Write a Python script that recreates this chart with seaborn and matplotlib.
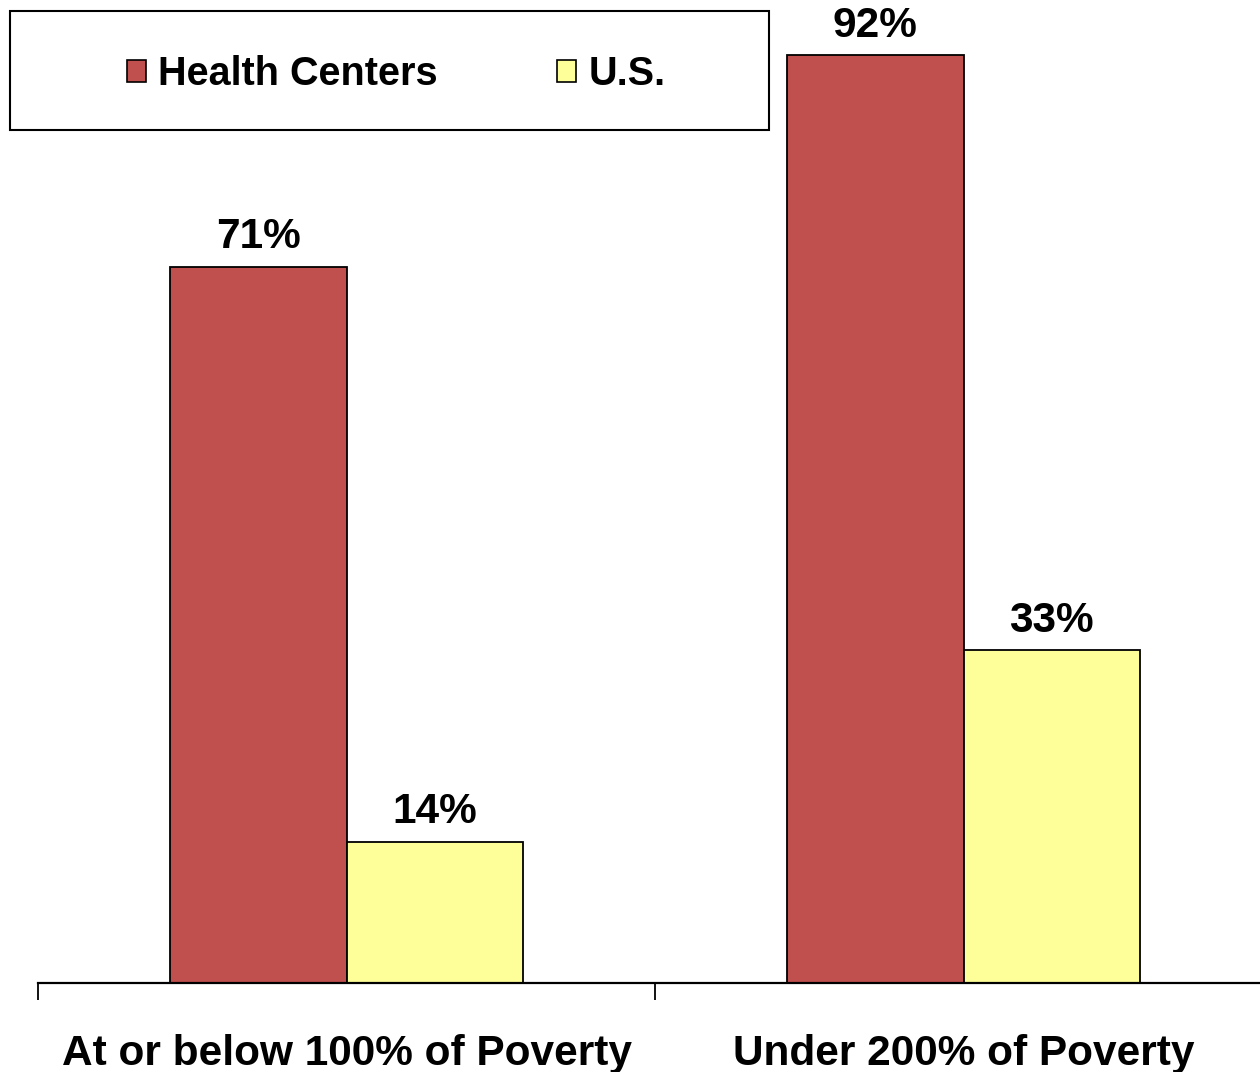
import matplotlib
matplotlib.use("Agg")
import matplotlib.pyplot as plt
import seaborn as sns
import pandas as pd
from matplotlib.patches import Rectangle

categories = ["At or below 100% of Poverty", "Under 200% of Poverty"]
series = ["Health Centers", "U.S."]
health_centers = [71, 92]
us_values = [14, 33]
colors = ["#C0504D", "#FFFF99"]

df = pd.DataFrame({
    "category": categories * 2,
    "series": [series[0]] * 2 + [series[1]] * 2,
    "value": health_centers + us_values,
})

sns.set_theme(style="white")
plt.rcParams["font.family"] = ["Liberation Sans", "DejaVu Sans"]
plt.rcParams["text.color"] = "black"
plt.rcParams["xtick.color"] = "black"
plt.rcParams["xtick.labelcolor"] = "black"

W, H = 1260, 1072
fig = plt.figure(figsize=(W / 100, H / 100), dpi=100)
ax = fig.add_axes([38 / W, 89 / H, 1234 / W, 983 / H])

sns.barplot(data=df, x="category", y="value", hue="series", palette=colors,
            width=0.572, edgecolor="black", linewidth=1.3, ax=ax, legend=False,
            saturation=1)

ax.set_xlim(-0.5, 1.5)
ax.set_ylim(0, 97.5)
ax.set_xlabel("")
ax.set_ylabel("")
ax.set_yticks([])
for s in ["left", "right", "top"]:
    ax.spines[s].set_visible(False)
ax.spines["bottom"].set_linewidth(1.6)
ax.spines["bottom"].set_color("black")

ax.set_xticks([0, 1])
ax.set_xticklabels(categories, fontsize=30.5, fontweight="bold", color="black")
ax.tick_params(axis="x", which="major", length=0, pad=37)
ax.set_xticks([-0.5, 0.5, 1.5], minor=True)
ax.tick_params(axis="x", which="minor", length=12, width=1.3, color="black",
               direction="out", bottom=True)

for cont in ax.containers:
    ax.bar_label(cont, fmt="{:.0f}%", padding=7, fontsize=30.5,
                 fontweight="bold", color="black")

# legend box
fig.patches.append(Rectangle((10 / W, 1 - 130 / H), 759 / W, 119 / H,
                             transform=fig.transFigure, fill=False,
                             edgecolor="black", linewidth=1.5))
handles = [Rectangle((0, 0), 1, 1, facecolor=c, edgecolor="black", linewidth=1.2)
           for c in colors]
leg = fig.legend(handles, series, loc="center", bbox_to_anchor=(396 / W, 1 - 74 / H),
                 ncol=2, frameon=False, prop={"size": 28.5, "weight": "bold"},
                 handlelength=0.5, handleheight=0.5, handletextpad=0.3,
                 columnspacing=3.0)
for t in leg.get_texts():
    t.set_color("black")

fig.savefig("out.png", dpi=100)
